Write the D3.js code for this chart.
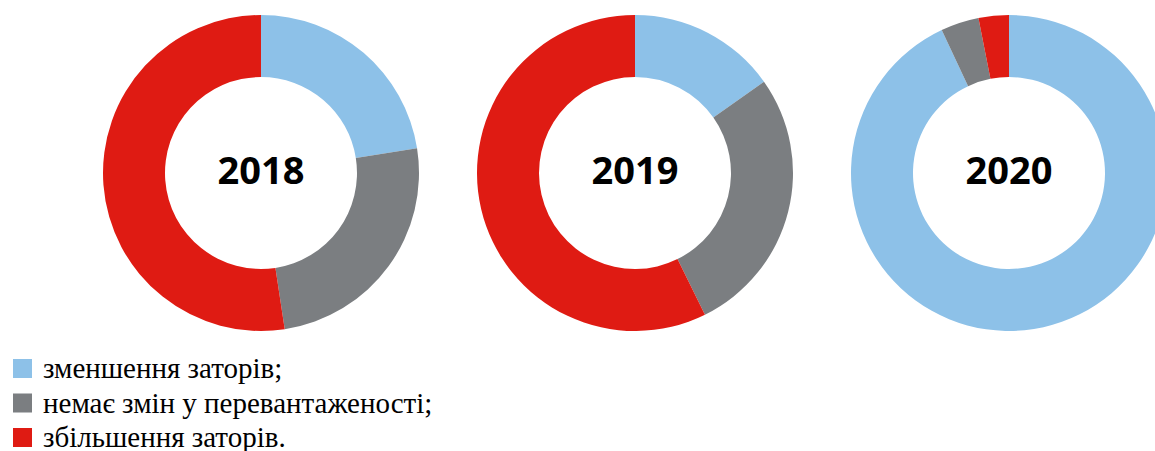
<!DOCTYPE html>
<html>
<head>
<meta charset="utf-8">
<script src="https://cdn.jsdelivr.net/npm/d3@7"></script>
<style>
  html, body { margin: 0; padding: 0; background: #fff; overflow: hidden; }
</style>
</head>
<body>
<div id="chart"></div>
<script>
const YEARS = ["2018", "2019", "2020"];
const CATEGORIES = ["зменшення заторів;", "немає змін у перевантаженості;", "збільшення заторів."];
const COLORS = ["#8dc1e8", "#7b7e81", "#df1b13"];
// shares per year, %
const DECREASE  = [22.5, 15.2, 93.0];
const NO_CHANGE = [25.1, 27.5, 3.9];
const INCREASE  = [52.4, 57.3, 3.1];

const WIDTH = 1155, HEIGHT = 451;

const svg = d3.select("#chart")
    .append("svg")
      .attr("width", WIDTH)
      .attr("height", HEIGHT);

const x = d3.scalePoint().domain(YEARS).range([261, 1009]);
const color = d3.scaleOrdinal().domain(CATEGORIES).range(COLORS);

const pie = d3.pie().sort(null).value(d => d.value);
const arc = d3.arc().innerRadius(96).outerRadius(158);

YEARS.forEach((year, i) => {
    const slices = [
        { cat: CATEGORIES[0], value: DECREASE[i] },
        { cat: CATEGORIES[1], value: NO_CHANGE[i] },
        { cat: CATEGORIES[2], value: INCREASE[i] }
    ];
    const g = svg.append("g")
        .attr("transform", `translate(${x(year)}, 173)`);

    g.selectAll("path")
        .data(pie(slices))
        .join("path")
        .attr("d", arc)
        .attr("fill", d => color(d.data.cat));

    g.append("text")
        .attr("text-anchor", "middle")
        .attr("y", 11)
        .attr("font-family", "'Open Sans', sans-serif")
        .attr("font-weight", 700)
        .attr("font-size", 38)
        .attr("fill", "#000")
        .text(year);
});

// legend
const legend = svg.append("g").attr("transform", "translate(13, 359)");
const row = d3.scaleLinear().domain([0, 1]).range([0, 34.5]);

const item = legend.selectAll("g")
    .data(CATEGORIES)
    .join("g")
    .attr("transform", (d, i) => `translate(0, ${row(i)})`);

item.append("rect")
    .attr("width", 19)
    .attr("height", 19)
    .attr("fill", d => color(d));

item.append("text")
    .attr("x", 30)
    .attr("y", 19)
    .style("font-family", "\"Liberation Serif\", \"Times New Roman\", serif")
    .style("font-size", "29px")
    .attr("fill", "#000")
    .text(d => d);
</script>
</body>
</html>
